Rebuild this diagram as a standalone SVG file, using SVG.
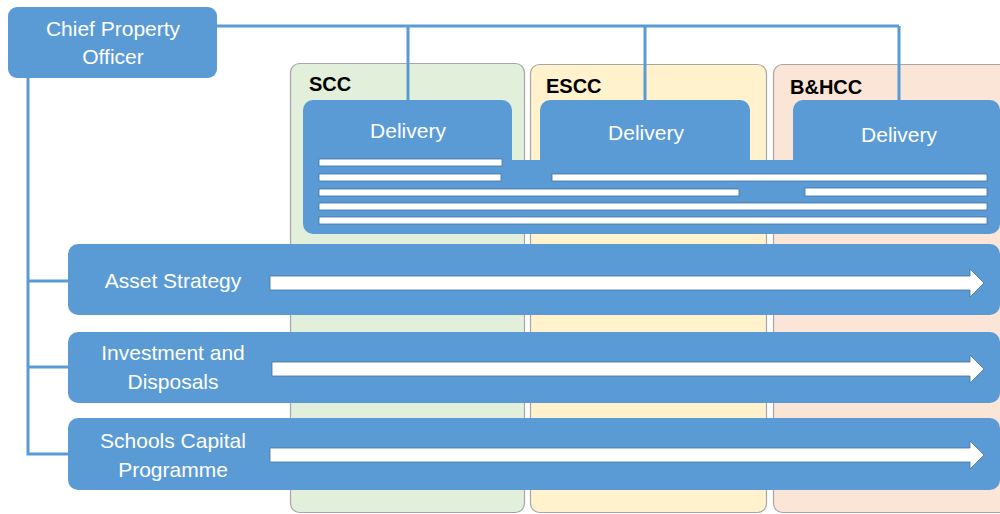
<svg xmlns="http://www.w3.org/2000/svg" width="1000" height="514" viewBox="0 0 1000 514">
  <style>
    .col { stroke: #a6a6a6; stroke-width: 1.2; }
    .box { fill: #5b9bd5; }
    .conn { fill: none; stroke: #5b9bd5; stroke-width: 3; }
    .bar { fill: #ffffff; stroke: #41719c; stroke-width: 0.8; }
    .arrow { fill: #ffffff; stroke: #41719c; stroke-width: 0.8; }
    .lbl { font-family: "Liberation Sans", Arial, sans-serif; font-size: 21px; fill: #ffffff; text-anchor: middle; }
    .head { font-family: "Liberation Sans", Arial, sans-serif; font-size: 20px; font-weight: bold; fill: #000000; }
  </style>

  <rect width="1000" height="514" fill="#ffffff"/>

  <!-- Council columns -->
  <g id="col-scc">
    <rect class="col" x="290.5" y="63.5" width="234" height="449" rx="9" fill="#e2efda"/>
    <text class="head" x="309" y="91">SCC</text>
  </g>
  <g id="col-escc">
    <rect class="col" x="530.5" y="64.5" width="236" height="448" rx="9" fill="#fff2cc"/>
    <text class="head" x="546" y="93">ESCC</text>
  </g>
  <g id="col-bhcc">
    <rect class="col" x="773.5" y="64.5" width="240" height="448" rx="9" fill="#fbe5d6"/>
    <text class="head" x="790" y="94">B&amp;HCC</text>
  </g>

  <!-- Connectors -->
  <g id="connectors">
    <path class="conn" d="M217,26 H899 M408,26 V101 M645,26 V101 M899,26 V101"/>
    <path class="conn" d="M28,78 V454 H68 M28,281 H68 M28,367 H68"/>
  </g>

  <!-- Delivery teams -->
  <g id="delivery">
    <path class="box" d="M303,110 A10,10 0 0 1 313,100 H502 A10,10 0 0 1 512,110 V160 H540 V110 A10,10 0 0 1 550,100 H740 A10,10 0 0 1 750,110 V160 H793 V110 A10,10 0 0 1 803,100 H990 A10,10 0 0 1 1000,110 V224 A10,10 0 0 1 990,234 H313 A10,10 0 0 1 303,224 Z"/>
    <text class="lbl" x="408" y="138">Delivery</text>
    <text class="lbl" x="646" y="140">Delivery</text>
    <text class="lbl" x="899" y="142">Delivery</text>
    <rect class="bar" x="319" y="159" width="183" height="7"/>
    <rect class="bar" x="319" y="174" width="182" height="7"/>
    <rect class="bar" x="552" y="174" width="435" height="7"/>
    <rect class="bar" x="319" y="189" width="420" height="7"/>
    <rect class="bar" x="805" y="188" width="182" height="8"/>
    <rect class="bar" x="319" y="203" width="668" height="7"/>
    <rect class="bar" x="319" y="217" width="668" height="7"/>
  </g>

  <!-- Cross-cutting services -->
  <g id="asset-strategy">
    <rect class="box" x="68" y="244" width="932" height="71" rx="10"/>
    <polygon class="arrow" points="270,276 970,276 970,269 984,283 970,297 970,290 270,290"/>
    <text class="lbl" x="173" y="288">Asset Strategy</text>
  </g>
  <g id="investment-disposals">
    <rect class="box" x="68" y="332" width="932" height="71" rx="10"/>
    <polygon class="arrow" points="272,362 970,362 970,355 984,369 970,383 970,376 272,376"/>
    <text class="lbl" x="173" y="360">Investment and</text>
    <text class="lbl" x="173" y="389">Disposals</text>
  </g>
  <g id="schools-capital">
    <rect class="box" x="68" y="418" width="932" height="72" rx="10"/>
    <polygon class="arrow" points="270,448 970,448 970,441 984,455 970,469 970,462 270,462"/>
    <text class="lbl" x="173" y="448">Schools Capital</text>
    <text class="lbl" x="173" y="477">Programme</text>
  </g>

  <!-- Head of service -->
  <g id="chief-property-officer">
    <rect class="box" x="8" y="7" width="209" height="71" rx="9"/>
    <text class="lbl" x="113" y="36">Chief Property</text>
    <text class="lbl" x="113" y="64">Officer</text>
  </g>
</svg>
